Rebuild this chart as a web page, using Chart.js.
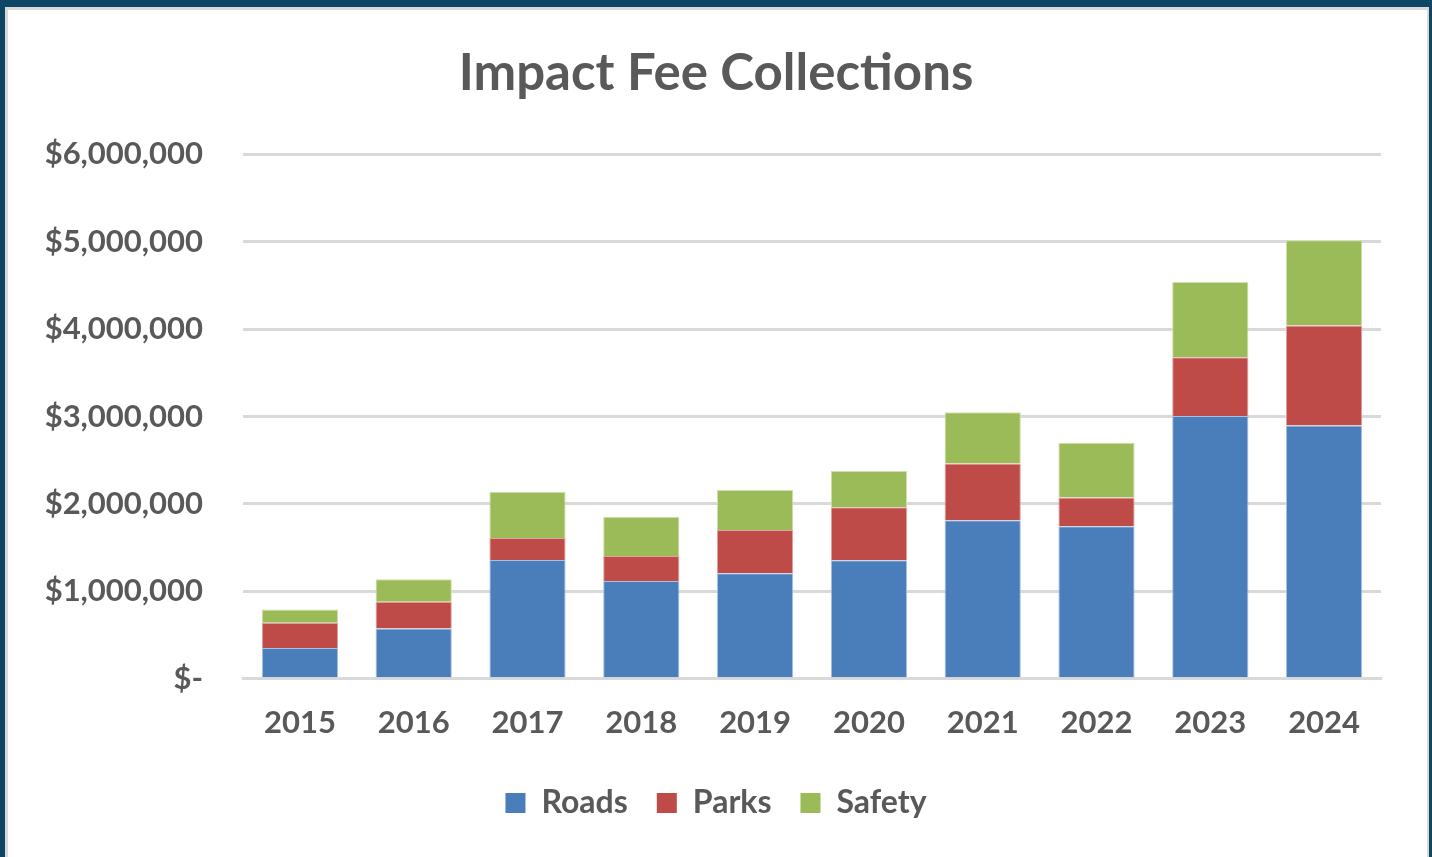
<!DOCTYPE html>
<html lang="en">
<head>
  <meta charset="UTF-8" />
  <title>Impact Fee Collections</title>
  <script src="https://cdn.jsdelivr.net/npm/chart.js"></script>
  <style>
    html, body {
      margin: 0;
      padding: 0;
      background: #0e4565;
      overflow: hidden;
    }

    #panel {
      position: absolute;
      left: 5px;
      top: 7px;
      width: 1419px;
      height: 860px;
      background: white;
      border-left: 3px solid #d9d9d9;
      border-top: 3px solid #d9d9d9;
      border-right: 2px solid #d9d9d9;
    }

    #feeChart {
      display: block;
    }
  </style>
</head>
<body>
  <div id="panel">
    <canvas id="feeChart" width="1416" height="847"></canvas>
  </div>

  <script>
    const years = ['2015', '2016', '2017', '2018', '2019', '2020', '2021', '2022', '2023', '2024'];

    // collections per fund, in dollars
    const roads  = [353000, 576000, 1359000, 1118000, 1206000, 1355000, 1814000, 1745000, 3007000, 2896000];
    const parks  = [287000, 305000, 252000, 287000, 497000, 608000, 649000, 328000, 672000, 1146000];
    const safety = [154000, 257000, 528000, 447000, 455000, 413000, 585000, 628000, 860000, 975000];

    const yTicks = [0, 1000000, 2000000, 3000000, 4000000, 5000000, 6000000];

    const grey = '#595959';
    const font = 'Lato, "Open Sans", sans-serif';

    const ctx = document.getElementById('feeChart').getContext('2d');

    new Chart(ctx, {
      type: 'bar',
      data: {
        labels: years,
        datasets: [
          { label: 'Roads',  data: roads,  backgroundColor: '#4a7ebb', borderColor: '#a9c1e0', borderWidth: 1 },
          { label: 'Parks',  data: parks,  backgroundColor: '#be4b48', borderColor: '#e0a3a1', borderWidth: 1 },
          { label: 'Safety', data: safety, backgroundColor: '#9bbb59', borderColor: '#cfe0ac', borderWidth: 1 }
        ]
      },
      options: {
        responsive: false,
        animation: false,
        layout: {
          // symmetric so the title and legend centre on the whole panel
          padding: { left: 21.5, right: 21.5, top: 0, bottom: 28 }
        },
        datasets: {
          bar: {
            categoryPercentage: 0.67,
            barPercentage: 1
          }
        },
        plugins: {
          title: {
            display: true,
            text: 'Impact Fee Collections',
            color: grey,
            font: { family: font, size: 51, weight: 'bold' },
            padding: { top: 33, bottom: 50 }
          },
          legend: {
            display: true,
            position: 'bottom',
            labels: {
              color: grey,
              font: { family: font, size: 32, weight: 'bold' },
              boxWidth: 20,
              boxHeight: 20,
              padding: 29,
              generateLabels: chart => chart.data.datasets.map((ds, i) => ({
                text: ds.label,
                fillStyle: ds.backgroundColor,
                strokeStyle: ds.backgroundColor,
                lineWidth: 0,
                fontColor: grey,
                datasetIndex: i
              }))
            }
          },
          tooltip: { enabled: false }
        },
        scales: {
          x: {
            stacked: true,
            afterFit: scale => { scale.height -= 10; },
            grid: { display: false, drawTicks: false },
            border: { display: true, color: '#d9d9d9', width: 3 },
            ticks: {
              color: grey,
              font: { family: font, size: 31, weight: 'bold' },
              padding: 26,
              maxRotation: 0
            }
          },
          y: {
            stacked: true,
            min: 0,
            max: 6000000,
            afterFit: scale => { scale.width = 213.5; },
            afterBuildTicks: scale => { scale.ticks = yTicks.map(v => ({ value: v })); },
            grid: { color: '#d9d9d9', lineWidth: 3, drawTicks: false },
            border: { display: false },
            ticks: {
              color: grey,
              font: { family: font, size: 31, weight: 'bold' },
              padding: 40,
              callback: v => v === 0 ? '$-' : '$' + v.toLocaleString('en-US')
            }
          },
          // empty spacer on the right
          y2: {
            type: 'linear',
            position: 'right',
            afterFit: scale => { scale.width = 21.5; },
            grid: { display: false, drawTicks: false },
            border: { display: false },
            ticks: { display: false }
          }
        }
      }
    });
  </script>
</body>
</html>
